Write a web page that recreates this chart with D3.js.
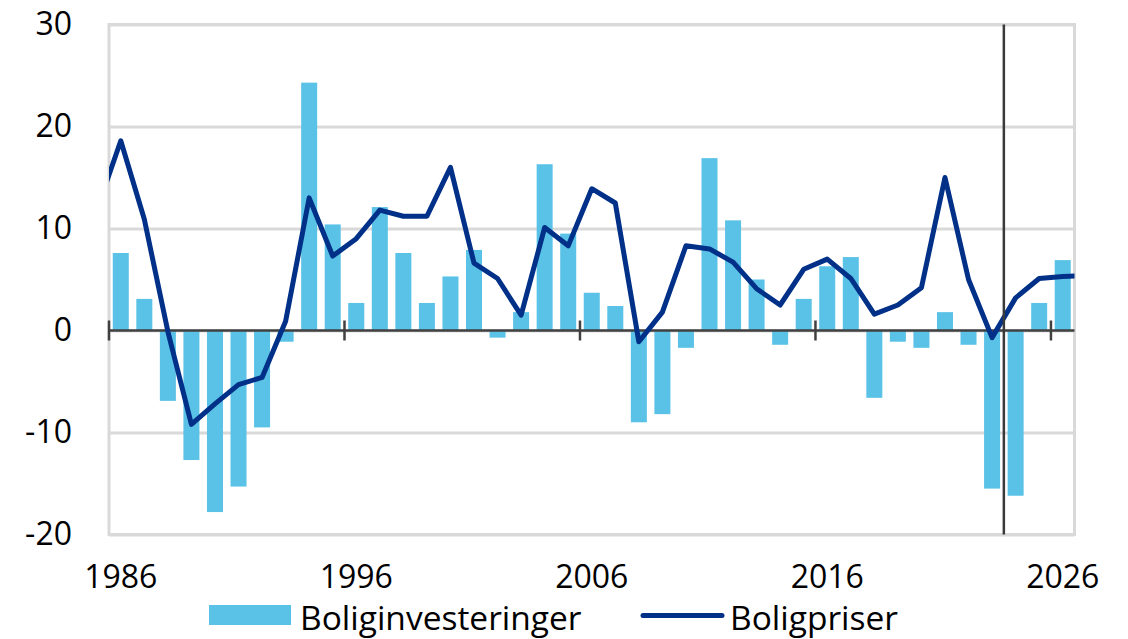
<!DOCTYPE html>
<html>
<head>
<meta charset="utf-8">
<script src="https://cdn.jsdelivr.net/npm/d3@7"></script>
<style>
	body { margin: 0; background: #fff; }
	text { font-family: "Open Sans", sans-serif; fill: #000; }
</style>
</head>
<body>
<div id="wrapper"></div>
<script>
/////////////////////////////////////////////////
// data /////////////////////////////////////////
/////////////////////////////////////////////////

const years = d3.range(1986, 2027);

// Boliginvesteringer, bars, 1986-2026
const investments = [
	7.6, 3.1, -6.9, -12.7, -17.8, -15.3, -9.5, -1.1, 24.3, 10.4,
	2.7, 12.1, 7.6, 2.7, 5.3, 7.9, -0.7, 1.8, 16.3, 9.5,
	3.7, 2.4, -9.0, -8.2, -1.7, 16.9, 10.8, 5.0, -1.4, 3.1,
	6.3, 7.2, -6.6, -1.1, -1.7, 1.8, -1.4, -15.5, -16.2, 2.7,
	6.9
];

// Boligpriser, line, 1985-2027 (ends clipped by the plot)
const priceYears = d3.range(1985, 2028);
const prices = [
	11.9,
	18.6, 10.9, -0.1, -9.2, -7.2, -5.3, -4.6, 0.9, 13.0, 7.3,
	9.0, 11.8, 11.2, 11.2, 16.0, 6.6, 5.1, 1.5, 10.1, 8.3,
	13.9, 12.5, -1.1, 1.8, 8.3, 8.0, 6.7, 4.1, 2.5, 6.0,
	7.0, 5.1, 1.6, 2.5, 4.2, 15.0, 5.0, -0.7, 3.2, 5.1,
	5.3, 5.4
];

const yTicks = [-20, -10, 0, 10, 20, 30];
const xLabelYears = [1986, 1996, 2006, 2016, 2026];
const markerYear = 2024; // vertical line before this year
const legendItems = ["Boliginvesteringer", "Boligpriser"];

/////////////////////////////////////////////////
// dimensions ///////////////////////////////////
/////////////////////////////////////////////////

const dimensions = {
	width: 1128,
	height: 639,
	margin: { top: 24.5, right: 53.5, bottom: 104.5, left: 109 }
};
dimensions.boundedWidth = dimensions.width - dimensions.margin.left - dimensions.margin.right;
dimensions.boundedHeight = dimensions.height - dimensions.margin.top - dimensions.margin.bottom;

const barColor = "#5bc2e7";
const lineColor = "#003087";
const gridColor = "#d9d9d9";
const axisColor = "#404040";

const svg = d3.select("#wrapper").append("svg")
	.attr("width", dimensions.width)
	.attr("height", dimensions.height);

const bounds = svg.append("g")
	.attr("transform", `translate(${dimensions.margin.left},${dimensions.margin.top})`);

/////////////////////////////////////////////////
// scales ///////////////////////////////////////
/////////////////////////////////////////////////

const xBand = d3.scaleBand()
	.domain(years)
	.range([0, dimensions.boundedWidth])
	.paddingInner(0.32)
	.paddingOuter(0.16);

// continuous year scale: year centre at band centre
const xLin = d3.scaleLinear()
	.domain([years[0] - 0.5, years[years.length - 1] + 0.5])
	.range([0, dimensions.boundedWidth]);

const yScale = d3.scaleLinear()
	.domain([-20, 30])
	.range([dimensions.boundedHeight, 0]);

/////////////////////////////////////////////////
// grid + frame /////////////////////////////////
/////////////////////////////////////////////////

const yAxis = bounds.append("g")
	.call(d3.axisLeft(yScale)
		.tickValues(yTicks)
		.tickFormat((d) => String(d)) // plain hyphen minus
		.tickSize(-dimensions.boundedWidth)
		.tickPadding(37));
yAxis.select(".domain").remove();
yAxis.selectAll(".tick line")
	.attr("stroke", gridColor)
	.attr("stroke-width", 3);
yAxis.selectAll(".tick text")
	.style("font-family", "'Open Sans', sans-serif")
	.style("font-size", "32px")
	.attr("fill", "#000");

bounds.append("rect")
	.attr("width", dimensions.boundedWidth)
	.attr("height", dimensions.boundedHeight)
	.attr("fill", "none")
	.attr("stroke", gridColor)
	.attr("stroke-width", 3);

/////////////////////////////////////////////////
// bars /////////////////////////////////////////
/////////////////////////////////////////////////

bounds.append("g")
	.selectAll("rect")
	.data(years)
	.join("rect")
	.attr("x", (d) => xBand(d))
	.attr("width", xBand.bandwidth())
	.attr("y", (d, i) => yScale(Math.max(0, investments[i])))
	.attr("height", (d, i) => Math.abs(yScale(investments[i]) - yScale(0)))
	.attr("fill", barColor);

/////////////////////////////////////////////////
// zero axis with ticks /////////////////////////
/////////////////////////////////////////////////

const zeroAxis = bounds.append("g")
	.attr("transform", `translate(0,${yScale(0)})`);
zeroAxis.append("line")
	.attr("x1", 0)
	.attr("x2", dimensions.boundedWidth)
	.attr("stroke", axisColor)
	.attr("stroke-width", 2.5);
zeroAxis.selectAll(".tk")
	.data(xLabelYears)
	.join("line")
	.attr("class", "tk")
	.attr("x1", (d) => xLin(d - 0.5))
	.attr("x2", (d) => xLin(d - 0.5))
	.attr("y1", -10)
	.attr("y2", 10)
	.attr("stroke", axisColor)
	.attr("stroke-width", 2.5);

/////////////////////////////////////////////////
// line /////////////////////////////////////////
/////////////////////////////////////////////////

svg.append("defs").append("clipPath")
	.attr("id", "plotClip")
	.append("rect")
	.attr("width", dimensions.boundedWidth)
	.attr("height", dimensions.boundedHeight);

const lineGenerator = d3.line()
	.x((d, i) => xLin(priceYears[i]))
	.y((d) => yScale(d));

bounds.append("path")
	.attr("clip-path", "url(#plotClip)")
	.attr("d", lineGenerator(prices))
	.attr("fill", "none")
	.attr("stroke", lineColor)
	.attr("stroke-width", 5)
	.attr("stroke-linejoin", "round");

// vertical marker line
bounds.append("line")
	.attr("x1", xLin(markerYear - 0.5))
	.attr("x2", xLin(markerYear - 0.5))
	.attr("y1", 0)
	.attr("y2", dimensions.boundedHeight)
	.attr("stroke", "#3a3a3a")
	.attr("stroke-width", 2.5);

/////////////////////////////////////////////////
// x labels /////////////////////////////////////
/////////////////////////////////////////////////

bounds.append("g")
	.selectAll("text")
	.data(xLabelYears)
	.join("text")
	.attr("x", (d) => xLin(d))
	.attr("y", dimensions.boundedHeight + 53)
	.attr("text-anchor", "middle")
	.style("font-size", "32px")
	.text((d) => d);

/////////////////////////////////////////////////
// legend ///////////////////////////////////////
/////////////////////////////////////////////////

const legend = svg.append("g");
legend.append("rect")
	.attr("x", 209)
	.attr("y", 605)
	.attr("width", 82)
	.attr("height", 20)
	.attr("fill", barColor);
legend.append("text")
	.attr("x", 300)
	.attr("y", 630)
	.style("font-size", "33.5px")
	.text(legendItems[0]);
legend.append("line")
	.attr("x1", 643)
	.attr("x2", 722)
	.attr("y1", 615.5)
	.attr("y2", 615.5)
	.attr("stroke", lineColor)
	.attr("stroke-width", 5)
	.attr("stroke-linecap", "round");
legend.append("text")
	.attr("x", 730)
	.attr("y", 630)
	.style("font-size", "33.5px")
	.text(legendItems[1]);
</script>
</body>
</html>
